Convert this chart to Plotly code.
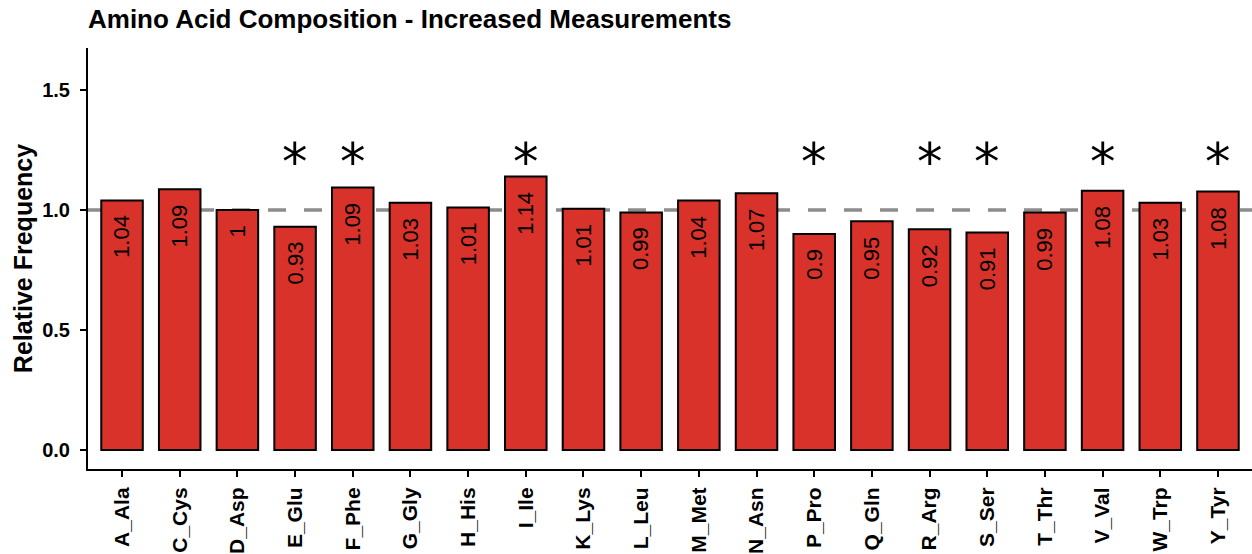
import plotly.graph_objects as go

categories = ["A_Ala", "C_Cys", "D_Asp", "E_Glu", "F_Phe", "G_Gly", "H_His", "I_Ile", "K_Lys", "L_Leu",
              "M_Met", "N_Asn", "P_Pro", "Q_Gln", "R_Arg", "S_Ser", "T_Thr", "V_Val", "W_Trp", "Y_Tyr"]
values = [1.04, 1.086, 1.0, 0.93, 1.094, 1.03, 1.01, 1.14, 1.005, 0.99,
          1.04, 1.07, 0.90, 0.953, 0.92, 0.906, 0.99, 1.08, 1.03, 1.077]
labels = ["1.04", "1.09", "1", "0.93", "1.09", "1.03", "1.01", "1.14", "1.01", "0.99",
          "1.04", "1.07", "0.9", "0.95", "0.92", "0.91", "0.99", "1.08", "1.03", "1.08"]
significant = [False, False, False, True, True, False, False, True, False, False,
               False, False, True, False, True, True, False, True, False, True]
reference_level = 1.0
star_level = 1.23

FONT = "Liberation Sans, Arial, sans-serif"

fig = go.Figure()
fig.add_trace(go.Bar(
    x=categories, y=values, width=0.72,
    marker=dict(color="#D8322A", line=dict(color="black", width=2)),
    hoverinfo="skip",
))

for c, v, lab in zip(categories, values, labels):
    fig.add_annotation(x=c, y=v, text=lab, textangle=-90, showarrow=False,
                       xanchor="center", yanchor="top", yshift=-13,
                       font=dict(family=FONT, size=22, color="black"))

for c, s in zip(categories, significant):
    if s:
        fig.add_annotation(x=c, y=star_level, text="*", showarrow=False,
                           xanchor="center", yanchor="middle", yshift=-8,
                           font=dict(family="DejaVu Sans", size=51, color="black"))

fig.add_shape(type="line", xref="paper", x0=0, x1=1, yref="y", y0=reference_level, y1=reference_level,
              line=dict(color="#8C8C8C", width=3.5, dash="18px,18px"), layer="below")

fig.update_layout(
    width=1252, height=554,
    margin=dict(l=88, r=0, t=48, b=85),
    plot_bgcolor="white", paper_bgcolor="white",
    showlegend=False,
    title=dict(text="<b>Amino Acid Composition - Increased Measurements</b>",
               x=0, xref="paper", xanchor="left", y=0.965, yanchor="middle",
               font=dict(family=FONT, size=26, color="black")),
    font=dict(family=FONT, color="black"),
)
fig.update_xaxes(
    range=[-0.59, 19.59], showline=True, linecolor="black", linewidth=2,
    ticks="outside", ticklen=6, tickwidth=1.5, tickcolor="black", ticklabelstandoff=2,
    tickangle=-90, tickfont=dict(family=FONT, size=21, color="black", weight="bold"),
    showgrid=False, zeroline=False, automargin=False,
)
fig.update_yaxes(
    range=[-0.079, 1.675], showline=True, linecolor="black", linewidth=2,
    ticks="outside", ticklen=6, tickwidth=1.5, tickcolor="black", ticklabelstandoff=6,
    tickvals=[0, 0.5, 1.0, 1.5], ticktext=["0.0", "0.5", "1.0", "1.5"],
    tickfont=dict(family=FONT, size=20, color="black", weight="bold"),
    title=dict(text="<b>Relative Frequency</b>", font=dict(family=FONT, size=25, color="black"), standoff=2),
    showgrid=False, zeroline=False, automargin=False,
)

fig.write_html("out.html", config={"displayModeBar": False},
               post_script="document.body.style.margin='0';")
